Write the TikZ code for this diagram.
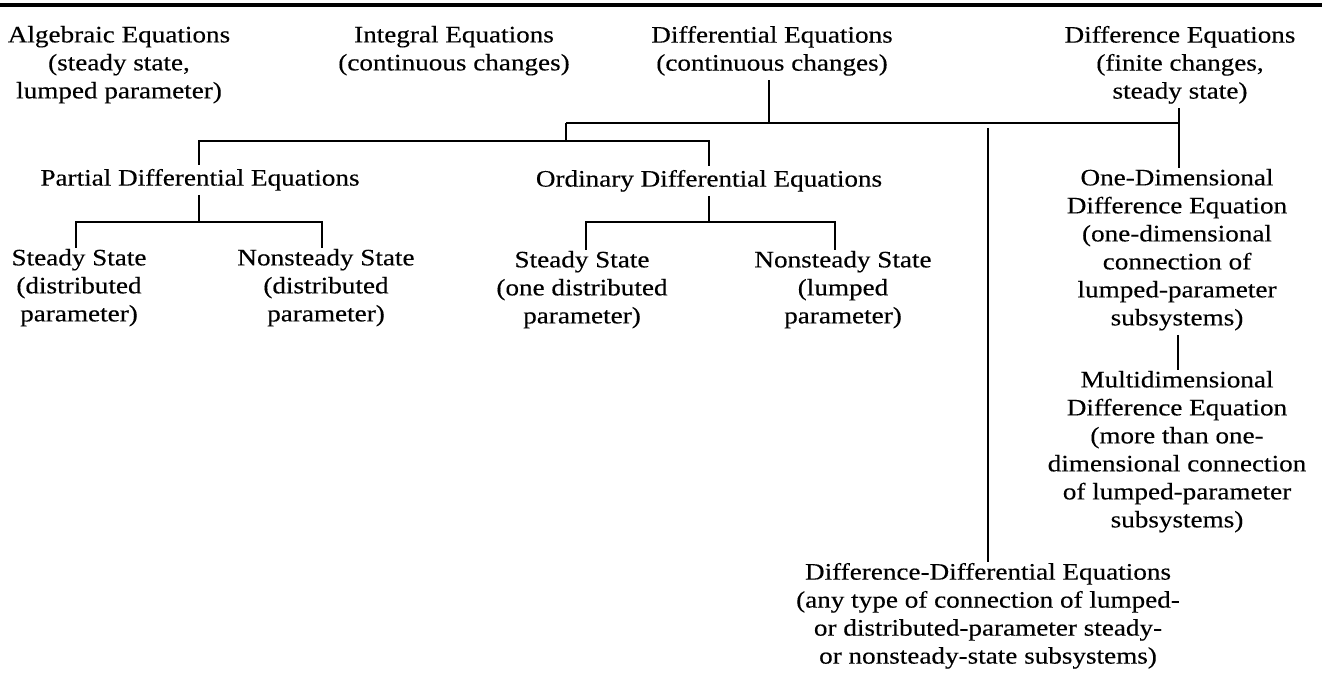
\documentclass[tikz,border=0pt]{standalone}
\usepackage{fontspec}
\setmainfont{Liberation Serif}[FakeStretch=1.15,FakeBold=0.3]
\begin{document}
\begin{tikzpicture}[x=0.5pt,y=-0.5pt,line width=1pt,
  lbl/.style={anchor=north, align=center, inner sep=0pt,
    font=\fontsize{11.8}{14}\selectfont,
    execute at begin node=\strut, execute at end node=\strut},
  rulestyle/.style={line width=1.6pt}]
\useasboundingbox (0,0) rectangle (1322,673);
% top rule
\coordinate (rl) at (0,5);
\coordinate (rr) at (1322,5);
\draw[rulestyle] (rl) -- (rr);
% nodes
\node[lbl] (alg) at (119,25) {Algebraic Equations\\(steady state,\\lumped parameter)};
\node[lbl] (int) at (454,25) {Integral Equations\\(continuous changes)};
\node[lbl] (dif) at (772,25) {Differential Equations\\(continuous changes)};
\node[lbl] (dce) at (1180,25) {Difference Equations\\(finite changes,\\steady state)};
\node[lbl] (pde) at (200,165) {Partial Differential Equations};
\node[lbl] (ode) at (709,166) {Ordinary Differential Equations};
\node[lbl] (ss1) at (79,248) {Steady State\\(distributed\\parameter)};
\node[lbl] (ns1) at (326,248) {Nonsteady State\\(distributed\\parameter)};
\node[lbl] (ss2) at (582,250) {Steady State\\(one distributed\\parameter)};
\node[lbl] (ns2) at (843,250) {Nonsteady State\\(lumped\\parameter)};
\node[lbl] (one) at (1177,168) {One-Dimensional\\Difference Equation\\(one-dimensional\\connection of\\lumped-parameter\\subsystems)};
\node[lbl] (mul) at (1177,370) {Multidimensional\\Difference Equation\\(more than one-\\dimensional connection\\of lumped-parameter\\subsystems)};
\node[lbl] (dd) at (988,562) {Difference-Differential Equations\\(any type of connection of lumped-\\or distributed-parameter steady-\\or nonsteady-state subsystems)};
% junctions
\coordinate (jd) at (769,123);
\coordinate (j1) at (566,123);
\coordinate (jr) at (1179,123);
\coordinate (j2) at (566,141);
\coordinate (jp) at (199,141);
\coordinate (jo) at (709,141);
\coordinate (kp) at (199,222);
\coordinate (ka) at (76,222);
\coordinate (kb) at (322,222);
\coordinate (ko) at (709,222);
\coordinate (kc) at (586,222);
\coordinate (kd) at (835,222);
\coordinate (jdd) at (988,128);
\coordinate (jm) at (1178,350);
% connectors
\draw (jd |- dif.south) -- (jd);
\draw (j1) -- (jr);
\draw (jr |- dce.south) -- (jr |- one.north);
\draw (j1) -- (j2);
\draw (jp |- pde.north) -- (jp) -- (jo) -- (jo |- ode.north);
\draw (kp |- pde.south) -- (kp);
\draw (ka |- ss1.north) -- (ka) -- (kb) -- (kb |- ns1.north);
\draw (ko |- ode.south) -- (ko);
\draw (kc |- ss2.north) -- (kc) -- (kd) -- (kd |- ns2.north);
\draw (jdd) -- (jdd |- dd.north);
\draw (jm |- one.south) -- (jm |- mul.north);
\end{tikzpicture}
\end{document}
